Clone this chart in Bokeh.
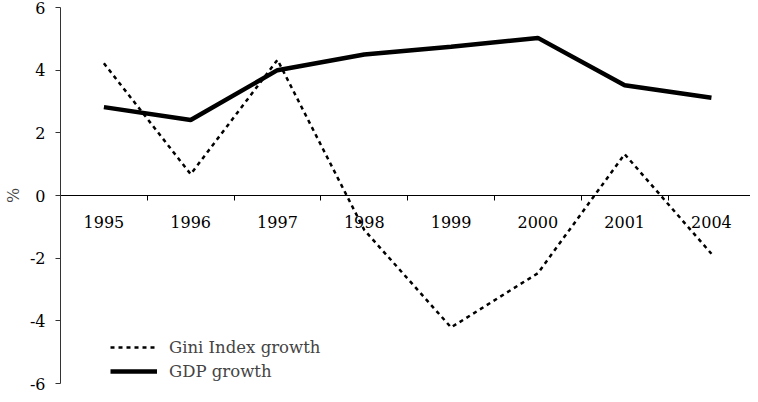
import numpy as np
from bokeh.plotting import figure
from bokeh.models import Range1d, FixedTicker, LinearAxis, Legend, LegendItem
from bokeh.embed import file_html
from bokeh.resources import INLINE

years = ["1995", "1996", "1997", "1998", "1999", "2000", "2001", "2004"]
gini_growth = [4.22, 0.68, 4.33, -1.1, -4.21, -2.48, 1.32, -1.86]
gdp_growth = [2.82, 2.41, 4.0, 4.5, 4.75, 5.03, 3.52, 3.12]
y_ticks = [-6, -4, -2, 0, 2, 4, 6]

FONT = "DejaVu Serif"
FS = "16px"

xs = [i + 0.5 for i in range(len(years))]

p = figure(width=750, height=394, x_range=Range1d(0, 7.95), y_range=Range1d(-6, 6),
           output_backend="svg", toolbar_location=None,
           min_border_left=55, min_border_top=7, min_border_right=0, min_border_bottom=11)
p.outline_line_color = None
p.xgrid.visible = False
p.ygrid.visible = False

# labelled category axis at y = 0
xa = p.xaxis[0]
xa.ticker = FixedTicker(ticks=xs)
xa.major_label_overrides = {x: y for x, y in zip(xs, years)}
xa.major_tick_line_color = None
xa.minor_tick_line_color = None
xa.axis_line_color = "black"
xa.axis_line_width = 1
xa.fixed_location = 0
xa.major_label_standoff = 14
xa.major_label_text_font = FONT
xa.major_label_text_font_size = FS
xa.major_label_text_color = "black"

# boundary ticks
xb = LinearAxis(ticker=FixedTicker(ticks=list(range(len(years) + 1))),
                fixed_location=0, axis_line_color=None,
                major_tick_out=5, major_tick_in=0, major_tick_line_color="black",
                minor_tick_line_color=None, major_label_text_color=None,
                major_label_text_font_size="1px")
p.add_layout(xb, "below")

ya = p.yaxis[0]
ya.ticker = FixedTicker(ticks=y_ticks)
ya.major_label_overrides = {t: str(t) for t in y_ticks}
ya.major_tick_out = 5
ya.major_tick_in = 0
ya.minor_tick_line_color = None
ya.axis_line_color = "#333333"
ya.major_tick_line_color = "#333333"
ya.major_label_standoff = 10
ya.major_label_text_font = FONT
ya.major_label_text_font_size = FS
ya.major_label_text_color = "black"
ya.axis_label = "%"
ya.axis_label_text_font = FONT
ya.axis_label_text_font_size = FS
ya.axis_label_text_font_style = "normal"
ya.axis_label_standoff = 4

r_gini = p.line(xs, gini_growth, line_color="black", line_width=2.5, line_dash="4 4")
r_gdp = p.line(xs, gdp_growth, line_color="black", line_width=4.5)

legend = Legend(items=[LegendItem(label="Gini Index growth", renderers=[r_gini]),
                       LegendItem(label="GDP growth", renderers=[r_gdp])],
                location=(50, 0), padding=0, margin=0, spacing=0,
                glyph_width=47, glyph_height=24, label_height=24, label_standoff=12,
                border_line_color=None, background_fill_alpha=0,
                label_text_font=FONT, label_text_font_size="16.5px")
p.add_layout(legend)

open("out.html", "w").write(file_html(p, INLINE))
